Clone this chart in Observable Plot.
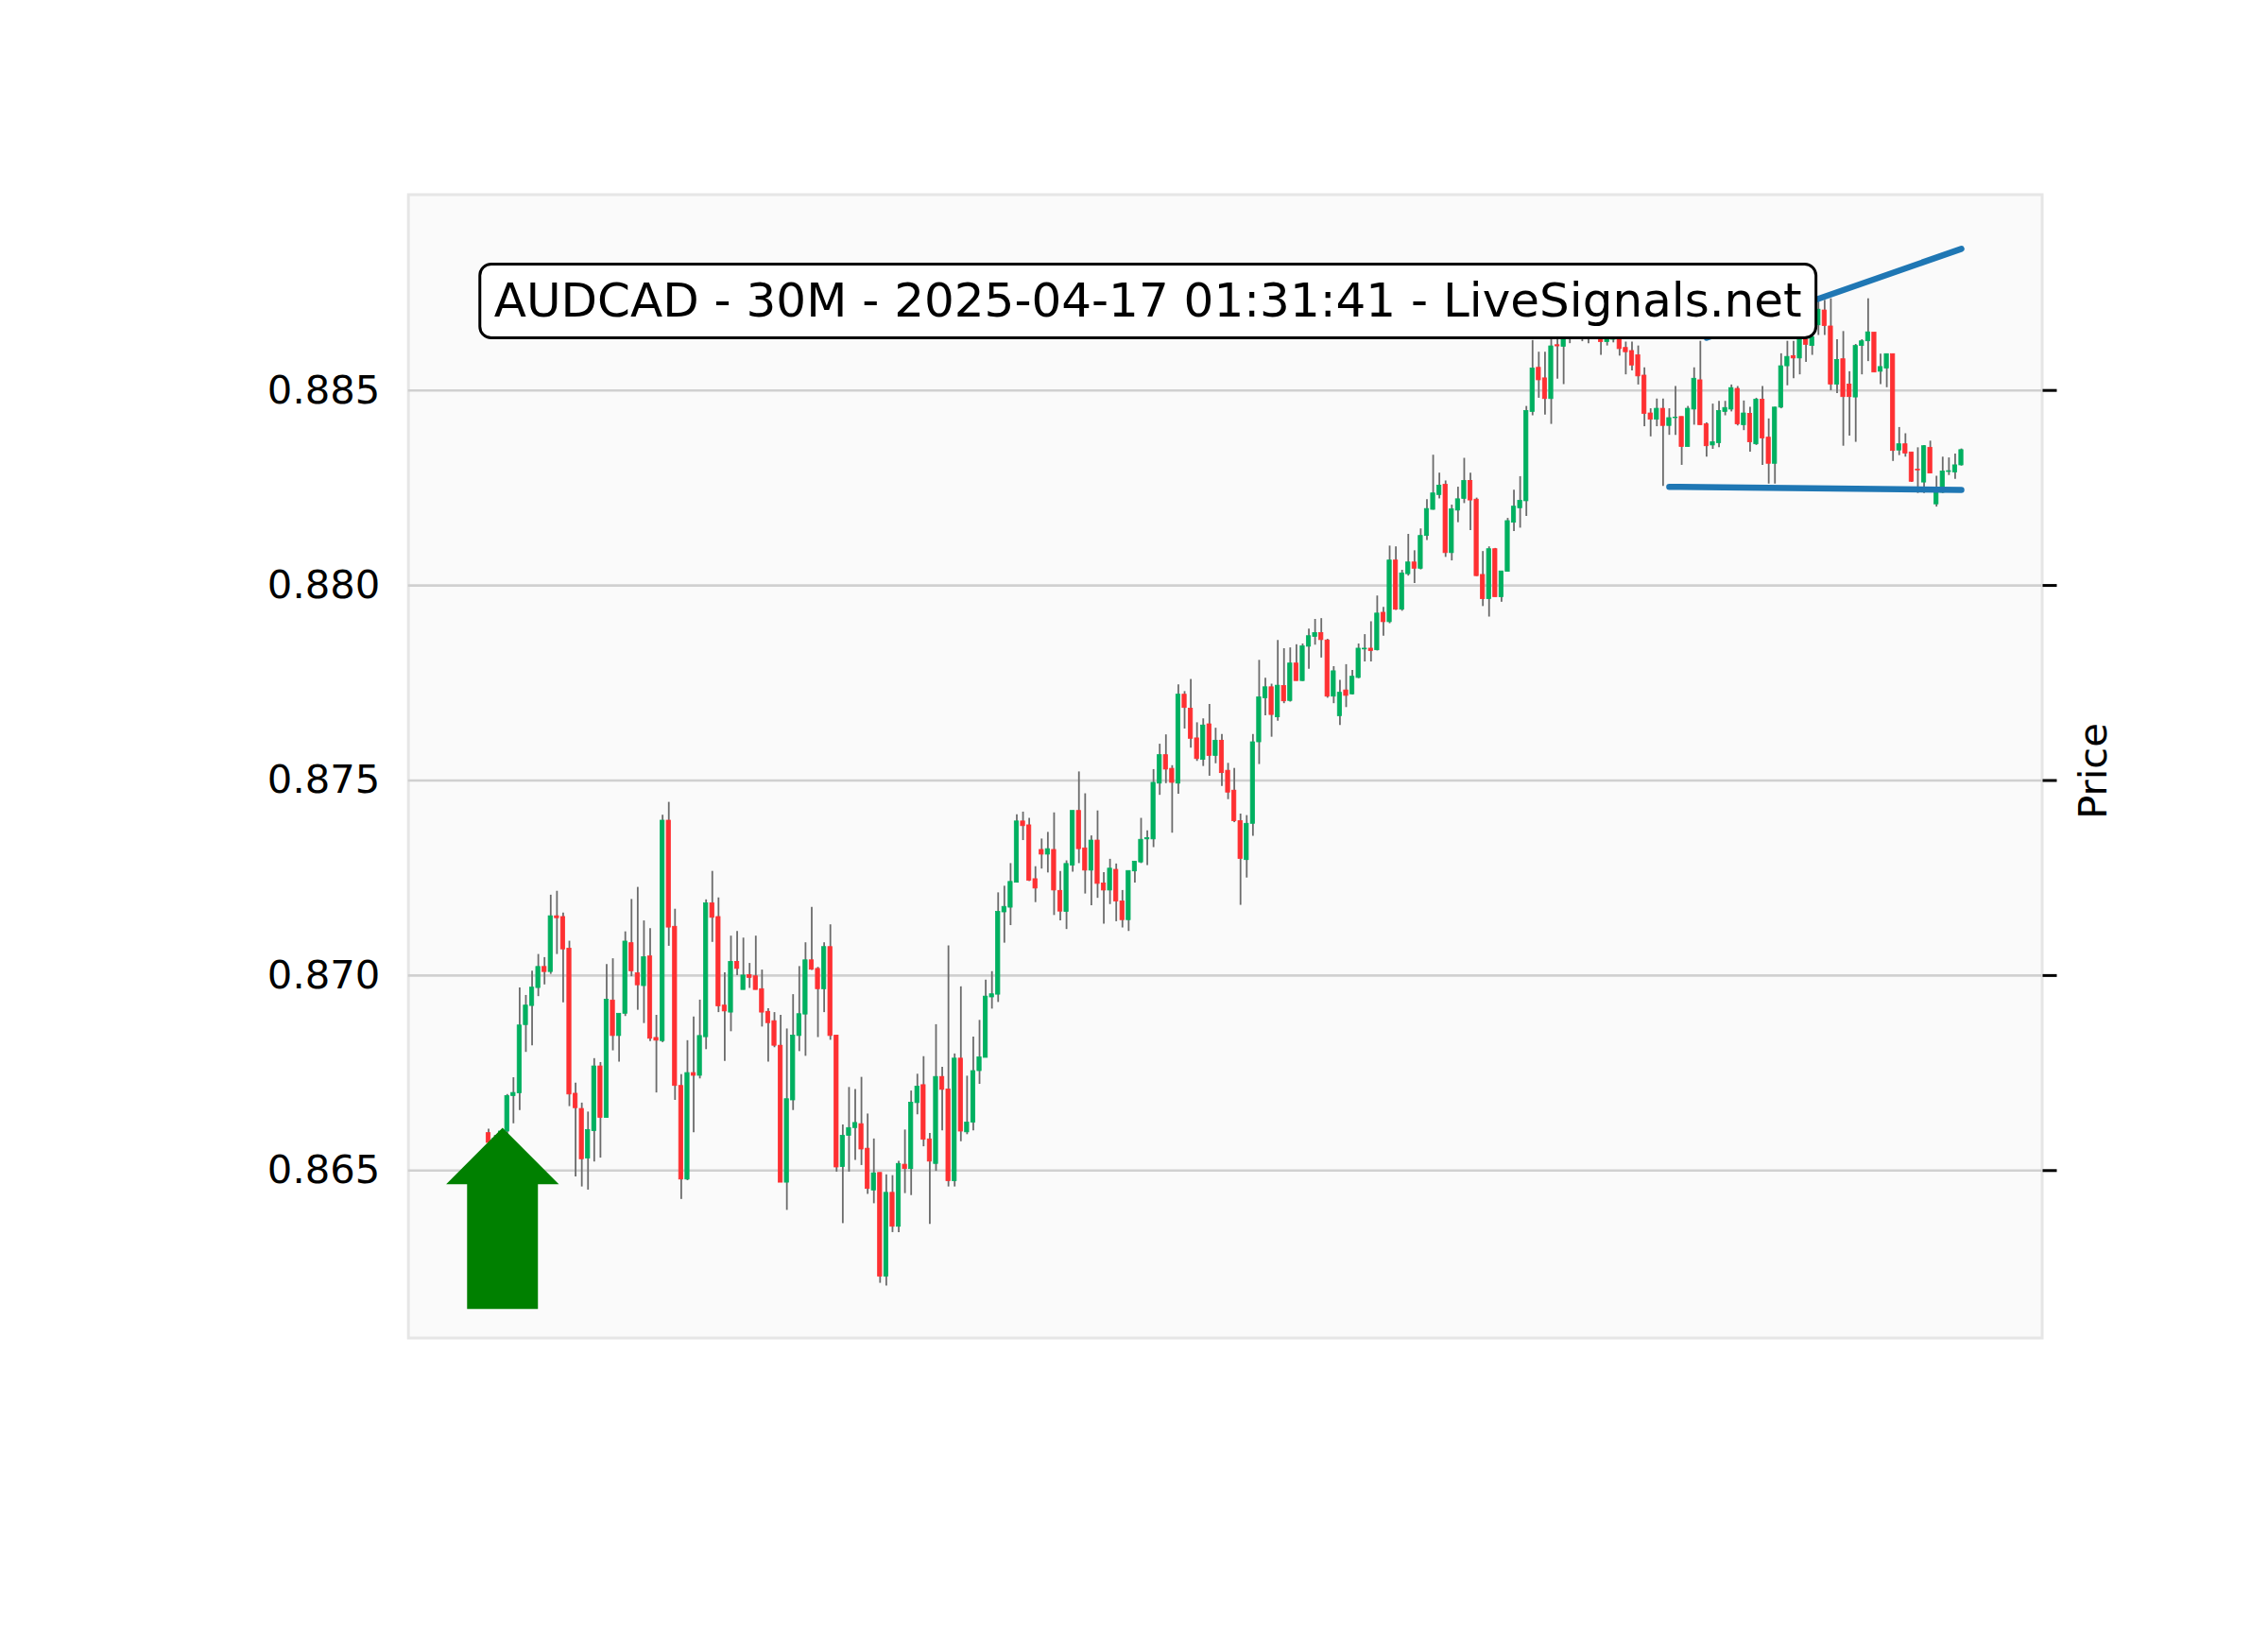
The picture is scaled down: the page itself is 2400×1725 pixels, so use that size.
<!DOCTYPE html>
<html><head><meta charset="utf-8">
<script src="https://cdn.jsdelivr.net/npm/d3@7"></script>
<script src="https://cdn.jsdelivr.net/npm/@observablehq/plot@0.6"></script>
<style>html,body{margin:0;padding:0;background:#fff;}</style>
</head><body><div id="chart"></div>
<script>
// ---- data ----
const opens = [
.86596,.86571,.86582,.86600,.86691,.86698,.86873,.86922,.86968,.87022,
.87009,.87152,.87150,.87069,.86697,.86658,.86531,.86601,.86767,.86635,
.86936,.86845,.86902,.87083,.87006,.86973,.87049,.86840,.86832,.87397,
.87125,.86717,.86477,.86750,.86743,.86842,.87185,.87150,.86923,.86905,
.87035,.86963,.87001,.86998,.86965,.86907,.86883,.86820,.86469,.86680,
.86845,.86900,.87039,.87017,.86965,.87073,.86846,.86509,.86589,.86609,
.86619,.86556,.86449,.86494,.86228,.86443,.86356,.86515,.86504,.86673,
.86719,.86580,.86517,.86740,.86708,.86473,.86787,.86598,.86623,.86755,
.86789,.86944,.86951,.87162,.87174,.87238,.87395,.87385,.87247,.87322,
.87310,.87322,.87217,.87163,.87282,.87422,.87326,.87269,.87346,.87236,
.87218,.87271,.87190,.87142,.87267,.87290,.87349,.87349,.87492,.87565,
.87530,.87492,.87720,.87684,.87608,.87553,.87644,.87563,.87602,.87525,
.87474,.87396,.87296,.87389,.87598,.87711,.87739,.87662,.87742,.87704,
.87800,.87755,.87843,.87868,.87878,.87859,.87715,.87665,.87731,.87721,
.87763,.87836,.87838,.87834,.87930,.87906,.88064,.87938,.88029,.88059,
.88043,.88127,.88194,.88232,.88258,.88083,.88192,.88222,.88268,.88220,
.88027,.87965,.88093,.87970,.88035,.88161,.88198,.88216,.88445,.88558,
.88531,.88478,.88616,.88612,.88632,.88645,.88660,.88640,.88655,.88645,
.88624,.88630,.88640,.88609,.88601,.88590,.88538,.88441,.88425,.88453,
.88409,.88429,.88432,.88355,.88451,.88526,.88413,.88359,.88365,.88445,
.88451,.88504,.88411,.88440,.88362,.88476,.88379,.88312,.88456,.88562,
.88588,.88582,.88630,.88614,.88667,.88705,.88664,.88515,.88580,.88515,
.88482,.88614,.88626,.88648,.88548,.88556,.88593,.88346,.88362,.88341,
.88297,.88264,.88353,.88208,.88238,.88291,.88290,.88308];
const highs = [
.86606,.86590,.86602,.86695,.86738,.86968,.86949,.87011,.87054,.87046,
.87206,.87216,.87160,.87088,.86724,.86673,.86650,.86787,.86777,.87028,
.87043,.86902,.87112,.87195,.87226,.87140,.87120,.86898,.87411,.87444,
.87170,.86746,.86833,.86894,.86937,.87194,.87267,.87199,.87007,.87101,
.87113,.87096,.87031,.87101,.87014,.86915,.86905,.86898,.86863,.86951,
.87023,.87084,.87175,.87021,.87084,.87130,.86846,.86617,.86713,.86708,
.86739,.86645,.86581,.86494,.86489,.86487,.86524,.86604,.86704,.86747,
.86792,.86595,.86874,.86765,.87076,.86799,.86971,.86742,.86842,.86885,
.86988,.87010,.87212,.87229,.87287,.87412,.87419,.87403,.87279,.87350,
.87367,.87417,.87267,.87294,.87422,.87522,.87466,.87358,.87422,.87264,
.87298,.87286,.87218,.87268,.87292,.87403,.87371,.87528,.87593,.87617,
.87538,.87745,.87728,.87759,.87648,.87658,.87695,.87634,.87618,.87544,
.87531,.87414,.87410,.87618,.87808,.87762,.87747,.87859,.87838,.87840,
.87848,.87850,.87888,.87913,.87915,.87862,.87792,.87757,.87797,.87782,
.87850,.87874,.87907,.87973,.87944,.88101,.88099,.88039,.88131,.88089,
.88145,.88220,.88334,.88288,.88268,.88206,.88252,.88326,.88288,.88224,
.88087,.88099,.88095,.88036,.88172,.88244,.88279,.88459,.88628,.88598,
.88598,.88660,.88680,.88665,.88690,.88700,.88710,.88695,.88720,.88680,
.88665,.88660,.88665,.88624,.88624,.88614,.88558,.88453,.88478,.88478,
.88453,.88510,.88432,.88459,.88558,.88626,.88417,.88465,.88472,.88472,
.88514,.88510,.88473,.88457,.88480,.88510,.88427,.88457,.88594,.88626,
.88626,.88645,.88645,.88651,.88731,.88731,.88735,.88630,.88651,.88548,
.88618,.88630,.88735,.88648,.88593,.88593,.88593,.88405,.88389,.88341,
.88353,.88359,.88370,.88280,.88329,.88327,.88337,.88350];
const lows = [
.86565,.86560,.86570,.86590,.86620,.86654,.86803,.86820,.86946,.86976,
.87003,.87054,.86930,.86664,.86484,.86458,.86450,.86522,.86532,.86635,
.86807,.86778,.86895,.86997,.86911,.86877,.86831,.86699,.86828,.87075,
.86680,.86426,.86474,.86597,.86735,.86810,.87085,.86905,.86780,.86856,
.87000,.86963,.86967,.86963,.86868,.86778,.86815,.86469,.86398,.86654,
.86805,.86793,.87013,.86841,.86905,.86834,.86496,.86364,.86496,.86526,
.86513,.86439,.86415,.86211,.86204,.86341,.86341,.86441,.86436,.86643,
.86561,.86362,.86498,.86602,.86458,.86458,.86574,.86592,.86602,.86721,
.86789,.86914,.86931,.87083,.87128,.87237,.87346,.87241,.87187,.87273,
.87263,.87154,.87140,.87118,.87265,.87287,.87209,.87179,.87198,.87132,
.87182,.87138,.87122,.87113,.87237,.87287,.87282,.87328,.87462,.87492,
.87365,.87465,.87632,.87583,.87549,.87536,.87511,.87543,.87485,.87451,
.87392,.87180,.87250,.87357,.87541,.87666,.87611,.87652,.87697,.87701,
.87755,.87754,.87785,.87847,.87814,.87711,.87697,.87641,.87687,.87719,
.87761,.87804,.87804,.87832,.87870,.87902,.87936,.87934,.88024,.88005,
.88040,.88115,.88193,.88222,.88072,.88063,.88161,.88210,.88141,.88023,
.87946,.87919,.87970,.87957,.88035,.88138,.88147,.88177,.88435,.88480,
.88437,.88413,.88529,.88515,.88620,.88630,.88625,.88620,.88635,.88590,
.88614,.88622,.88588,.88540,.88550,.88514,.88407,.88381,.88407,.88254,
.88385,.88385,.88308,.88355,.88411,.88411,.88329,.88349,.88353,.88435,
.88445,.88409,.88397,.88342,.88359,.88308,.88260,.88260,.88453,.88512,
.88530,.88540,.88572,.88590,.88641,.88641,.88499,.88492,.88357,.88383,
.88367,.88540,.88574,.88546,.88515,.88507,.88318,.88333,.88329,.88264,
.88236,.88236,.88287,.88201,.88236,.88282,.88272,.88306];
const closes = [
.86571,.86582,.86600,.86691,.86699,.86872,.86923,.86969,.87022,.87009,
.87152,.87147,.87067,.86695,.86660,.86529,.86604,.86767,.86635,.86938,
.86845,.86902,.87087,.87011,.86975,.87047,.86838,.86833,.87397,.87123,
.86717,.86477,.86750,.86743,.86845,.87185,.87148,.86921,.86908,.87035,
.87017,.87000,.86994,.86963,.86905,.86878,.86820,.86469,.86683,.86846,
.86901,.87039,.87015,.86965,.87073,.86845,.86508,.86589,.86609,.86622,
.86554,.86453,.86493,.86228,.86443,.86356,.86517,.86504,.86674,.86715,
.86579,.86523,.86740,.86707,.86473,.86787,.86600,.86623,.86755,.86790,
.86946,.86952,.87163,.87176,.87240,.87395,.87383,.87243,.87223,.87310,
.87324,.87218,.87164,.87286,.87422,.87324,.87269,.87346,.87235,.87218,
.87274,.87190,.87142,.87268,.87292,.87348,.87352,.87494,.87565,.87528,
.87494,.87720,.87686,.87607,.87555,.87641,.87563,.87602,.87519,.87469,
.87396,.87299,.87389,.87598,.87713,.87739,.87668,.87743,.87703,.87800,
.87755,.87844,.87870,.87878,.87860,.87715,.87780,.87725,.87717,.87766,
.87838,.87838,.87832,.87928,.87906,.88064,.87938,.88031,.88059,.88043,
.88127,.88196,.88236,.88256,.88083,.88195,.88221,.88268,.88218,.88024,
.87965,.88093,.87970,.88036,.88165,.88202,.88217,.88447,.88556,.88526,
.88478,.88613,.88613,.88630,.88645,.88660,.88640,.88655,.88668,.88624,
.88638,.88640,.88606,.88598,.88564,.88536,.88440,.88425,.88453,.88409,
.88429,.88430,.88355,.88453,.88530,.88411,.88357,.88367,.88447,.88455,
.88506,.88413,.88441,.88367,.88476,.88377,.88312,.88456,.88562,.88586,
.88582,.88630,.88617,.88636,.88707,.88665,.88515,.88578,.88483,.88483,
.88614,.88626,.88649,.88546,.88560,.88593,.88345,.88362,.88338,.88266,
.88295,.88357,.88287,.88238,.88292,.88293,.88308,.88347];

const yTicks = [0.865, 0.870, 0.875, 0.880, 0.885];
const titleText = ["AUDCAD - 30M - 2025-04-17 01:31:41 - LiveSignals.net"];
const titleX = [106.1];
const titleY = [0.88727];
// trendlines (candle index, price)
const upperLineX = [196, 237];
const upperLineY = [0.88635, 0.88863];
const lowerLineX = [190, 237];
const lowerLineY = [0.88253, 0.88245];
// buy arrow (candle index, prices, half widths in candle units)
const arrowX = 2.24, arrowTip = 0.86610, arrowHeadBase = 0.86465, arrowTail = 0.86145;
const arrowHeadHalf = 9.07, arrowShaftHalf = 5.70;

// ---- build tables ----
const candles = d3.range(opens.length).map(i => ({i, open: opens[i], high: highs[i], low: lows[i], close: closes[i]}));
const up = candles.filter(d => d.close >= d.open);
const down = candles.filter(d => d.close < d.open);
const upperLine = upperLineX.map((x, k) => ({x, y: upperLineY[k]}));
const lowerLine = lowerLineX.map((x, k) => ({x, y: lowerLineY[k]}));
const arrow = [
  {x: arrowX - arrowHeadHalf, y: arrowHeadBase},
  {x: arrowX, y: arrowTip},
  {x: arrowX + arrowHeadHalf, y: arrowHeadBase},
  {x: arrowX + arrowShaftHalf, y: arrowHeadBase},
  {x: arrowX + arrowShaftHalf, y: arrowTail},
  {x: arrowX - arrowShaftHalf, y: arrowTail},
  {x: arrowX - arrowShaftHalf, y: arrowHeadBase},
  {x: arrowX - arrowHeadHalf, y: arrowHeadBase}
];
const titleData = titleText.map((t, k) => ({t, x: titleX[k], y: titleY[k]}));

const UP = "#00b060", DOWN = "#fe3032", WICK = "#6b6b6b", LINE = "#1f77b4";
const bodyHalf = 0.33;
const font = "DejaVu Sans";

const chart = Plot.plot({
  width: 2400, height: 1725,
  marginLeft: 431.7, marginRight: 239.5, marginTop: 205.5, marginBottom: 309.5,
  style: {fontFamily: font, background: "#ffffff", overflow: "visible"},
  x: {domain: [-12.9, 250.0], axis: null},
  y: {domain: [0.860707, 0.890019]},
  marks: [
    Plot.frame({fill: "#fafafa", stroke: "#e6e6e6", strokeWidth: 3}),
    Plot.ruleY(yTicks, {stroke: "#d0d0d0", strokeWidth: 2.6}),
    Plot.axisY(yTicks, {anchor: "left", tickSize: 0, tickPadding: 30, tickFormat: d3.format(".3f"), fontSize: 41.7, color: "#000", label: null}),
    Plot.axisY(yTicks, {anchor: "right", tickSize: 15, tickFormat: () => "", strokeWidth: 3, color: "#000", label: null}),
    Plot.text(["Price"], {frameAnchor: "right", text: d => d, rotate: -90, dx: 55, dy: 5, fontSize: 41.7, textAnchor: "middle", lineAnchor: "middle", fill: "#000"}),
    Plot.ruleX(candles, {x: "i", y1: "low", y2: "high", stroke: WICK, strokeWidth: 1.8}),
    Plot.rect(up, {x1: d => d.i - bodyHalf, x2: d => d.i + bodyHalf, y1: "open", y2: "close", fill: UP, stroke: UP, strokeWidth: 0.8}),
    Plot.rect(down, {x1: d => d.i - bodyHalf, x2: d => d.i + bodyHalf, y1: "open", y2: "close", fill: DOWN, stroke: DOWN, strokeWidth: 0.8}),
    Plot.line(upperLine, {x: "x", y: "y", stroke: LINE, strokeWidth: 6.5}),
    Plot.line(lowerLine, {x: "x", y: "y", stroke: LINE, strokeWidth: 6.5}),
    Plot.line(arrow, {x: "x", y: "y", fill: "#008000", stroke: "none"}),
    Plot.text(titleData, {x: "x", y: "y", text: "t", fontSize: 50, textAnchor: "middle", lineAnchor: "middle", fill: "#000"})
  ]
});
document.getElementById("chart").append(chart);

// rounded white box behind the title label
const padX = 15, padY = 10;
chart.querySelectorAll("text").forEach(t => {
  if (t.textContent.includes("AUDCAD")) {
    const bb = t.getBBox();
    const r = document.createElementNS("http://www.w3.org/2000/svg", "rect");
    r.setAttribute("x", bb.x - padX);
    r.setAttribute("y", bb.y - padY);
    r.setAttribute("width", bb.width + 2 * padX);
    r.setAttribute("height", bb.height + 2 * padY);
    r.setAttribute("rx", 12);
    r.setAttribute("fill", "#ffffff");
    r.setAttribute("stroke", "#000");
    r.setAttribute("stroke-width", 3);
    if (t.getAttribute("transform")) r.setAttribute("transform", t.getAttribute("transform"));
    t.parentNode.insertBefore(r, t);
  }
});
</script></body></html>
